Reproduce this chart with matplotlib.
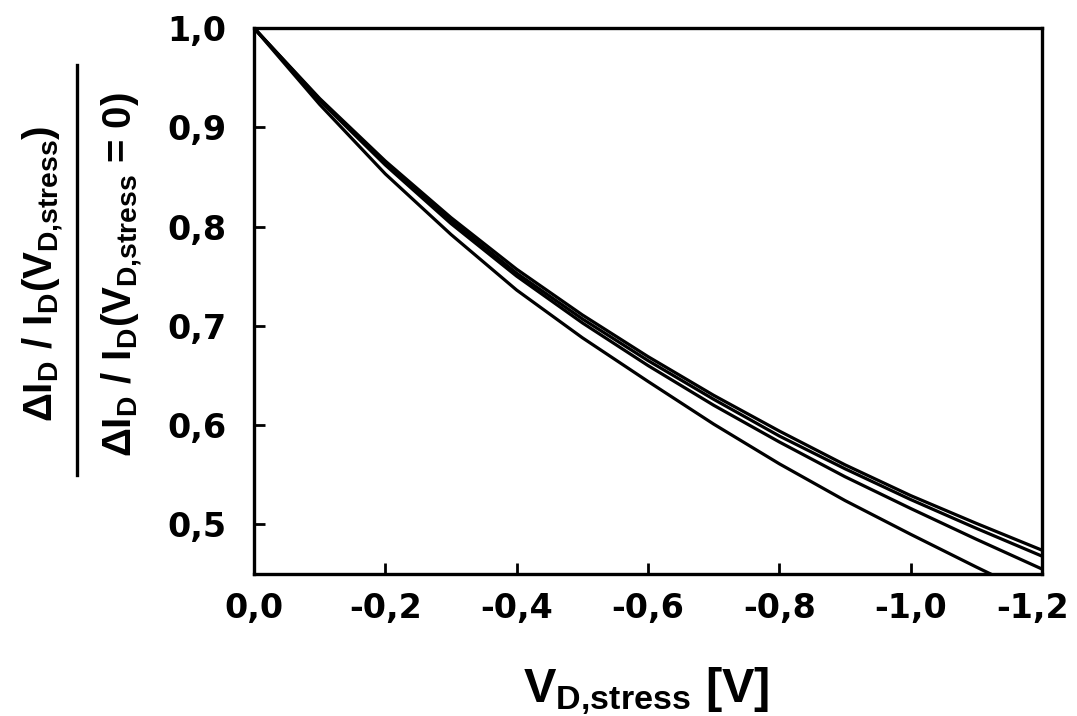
import numpy as np
import matplotlib
matplotlib.use("Agg")
import matplotlib.pyplot as plt
import matplotlib.transforms as mtransforms
from matplotlib.lines import Line2D

# Drain-stress voltage sweep and normalised drain-current ratio for four devices
v_stress = [0.0, -0.1, -0.2, -0.3, -0.4, -0.5, -0.6, -0.7, -0.8, -0.9, -1.0, -1.1, -1.2]
ratio_a = [1.000, 0.929, 0.866, 0.809, 0.757, 0.711, 0.669, 0.630, 0.594, 0.560, 0.529, 0.501, 0.474]
ratio_b = [1.000, 0.928, 0.864, 0.806, 0.753, 0.707, 0.665, 0.626, 0.589, 0.556, 0.525, 0.496, 0.468]
ratio_c = [1.000, 0.927, 0.862, 0.803, 0.750, 0.703, 0.660, 0.620, 0.583, 0.548, 0.516, 0.485, 0.455]
ratio_d = [1.000, 0.923, 0.853, 0.792, 0.736, 0.688, 0.644, 0.601, 0.561, 0.524, 0.490, 0.457, 0.425]

x_ticks = [0.0, -0.2, -0.4, -0.6, -0.8, -1.0, -1.2]
x_ticklabels = ["0,0", "-0,2", "-0,4", "-0,6", "-0,8", "-1,0", "-1,2"]
y_ticks = [0.5, 0.6, 0.7, 0.8, 0.9, 1.0]
y_ticklabels = ["0,5", "0,6", "0,7", "0,8", "0,9", "1,0"]

plt.rcParams["font.family"] = ["Liberation Sans", "DejaVu Sans"]
plt.rcParams["font.weight"] = "bold"
plt.rcParams["mathtext.fontset"] = "custom"
plt.rcParams["mathtext.rm"] = "Liberation Sans:bold"
plt.rcParams["mathtext.it"] = "Liberation Sans:bold"
plt.rcParams["mathtext.bf"] = "Liberation Sans:bold"
plt.rcParams["mathtext.sf"] = "Liberation Sans:bold"
plt.rcParams["mathtext.default"] = "rm"

W, H = 1077, 716
fig = plt.figure(figsize=(W / 100, H / 100), dpi=100)
ax = fig.add_axes([254 / W, 1 - 574 / H, 788 / W, 546 / H])

for ys in (ratio_a, ratio_b, ratio_c, ratio_d):
    ax.plot(v_stress, ys, color="black", lw=2.3, solid_capstyle="butt")

ax.set_xlim(0.0, -1.2)
ax.set_ylim(0.45, 1.0)
ax.set_xticks(x_ticks)
ax.set_xticklabels(x_ticklabels)
ax.set_yticks(y_ticks)
ax.set_yticklabels(y_ticklabels)
ax.tick_params(direction="in", length=8, width=2, labelsize=24)
ax.tick_params(axis="x", pad=13)
ax.tick_params(axis="y", pad=20)
for lab in ax.get_xticklabels() + ax.get_yticklabels():
    lab.set_fontfamily("DejaVu Sans")
    lab.set_fontweight("bold")
for sp in ax.spines.values():
    sp.set_linewidth(2.4)

# keep the last x tick label inside the figure
last = ax.get_xticklabels()[-1]
last.set_transform(last.get_transform()
                   + mtransforms.ScaledTranslation(-9 / 100, 0, fig.dpi_scale_trans))

# x axis label
fig.text(646 / W, 1 - 702 / H, r"$V_{D{,}stress}$ [V]", ha="center", va="baseline",
         fontsize=35, fontweight="bold")

# y axis label drawn as a fraction
fig.text(43 / W, 1 - 274 / H, r"$\Delta I_D\ /\ I_D(V_{D{,}stress})$", rotation=90,
         ha="center", va="center", fontsize=29, fontweight="bold")
fig.add_artist(Line2D([77 / W, 77 / W], [1 - 65 / H, 1 - 475 / H],
                      transform=fig.transFigure, color="black", lw=2.4))
fig.text(122 / W, 1 - 275 / H, r"$\Delta I_D\ /\ I_D(V_{D{,}stress}$ = 0)", rotation=90,
         ha="center", va="center", fontsize=29, fontweight="bold")

fig.savefig("out.png", dpi=100)
